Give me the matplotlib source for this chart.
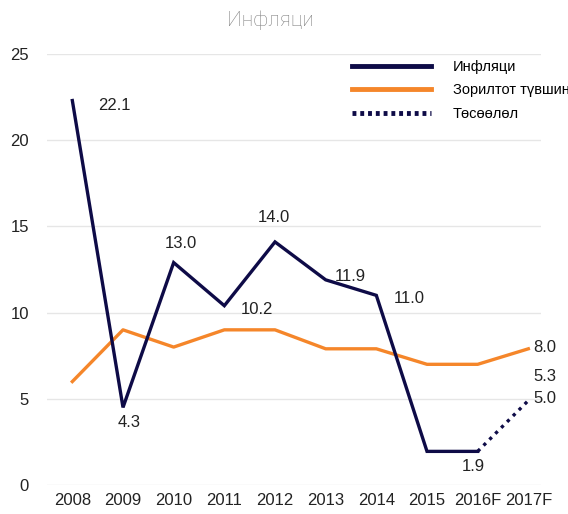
import matplotlib
matplotlib.use("Agg")
import matplotlib.pyplot as plt
from matplotlib.lines import Line2D

years = ["2008", "2009", "2010", "2011", "2012", "2013", "2014", "2015", "2016F", "2017F"]
inflation = [22.3, 4.5, 12.9, 10.4, 14.1, 11.9, 11.0, 1.95, 1.95]
forecast = [1.95, 4.9]
target = [6.0, 9.0, 8.0, 9.0, 9.0, 7.9, 7.9, 7.0, 7.0, 7.9]
labels = ["22.1", "4.3", "13.0", "14.0", "11.9", "11.0", "10.2", "1.9", "8.0", "5.3", "5.0"]
label_x = [0.82, 1.12, 2.15, 3.97, 5.48, 6.64, 3.65, 7.91, 9.33, 9.33, 9.33]
label_y = [22.0, 3.6, 14.0, 15.5, 12.1, 10.8, 10.2, 1.05, 8.0, 6.3, 5.0]

navy = "#0e0b47"
orange = "#f5862a"
plt.rcParams['font.family'] = ['Liberation Sans', 'DejaVu Sans']

fig = plt.figure(figsize=(5.68, 5.14), dpi=100)
ax = fig.add_axes([47/568, 1 - 485/514, (541-47)/568, (485-54)/514])

x = list(range(len(years)))
ax.plot(x[:9], inflation, color=navy, lw=2.4, solid_joinstyle='miter', zorder=3)
ax.plot(x[8:], forecast, color=navy, lw=2.4, ls=(0, (1, 1.5)), zorder=3)
ax.plot(x, target, color=orange, lw=2.4, zorder=2)

for lx, ly, t in zip(label_x, label_y, labels):
    ax.text(lx, ly, t, fontsize=12, color="#222222", ha='center', va='center', clip_on=False)

ax.set_ylim(0, 25)
ax.set_xlim(-0.5, 9.25)
ax.set_yticks([0, 5, 10, 15, 20, 25])
ax.set_xticks(x)
ax.set_xticklabels(years)
ax.tick_params(axis='both', length=0, labelsize=12, colors="#222222")
ax.tick_params(axis='y', pad=13)
ax.tick_params(axis='x', pad=6)
ax.grid(axis='y', color="#e6e6e6", lw=1)
ax.set_axisbelow(True)
for s in ax.spines.values():
    s.set_visible(False)

handles = [Line2D([], [], color=navy, lw=3.5),
           Line2D([], [], color=orange, lw=3.5),
           Line2D([], [], color=navy, lw=3.5, ls=(0, (0.8, 0.8)))]
leg = fig.legend(handles, ["Инфляци", "Зорилтот түвшин", "Төсөөлөл"],
                 loc='upper left', bbox_to_anchor=(352/568, 1 - 60/514),
                 frameon=False, fontsize=10.5, handlelength=5.4, handletextpad=1.5,
                 labelspacing=0.65, borderaxespad=0, borderpad=0)

fig.text(270/568, 1 - 20/514, "Инфляци", fontsize=15, color="#808080",
         ha='center', va='center', family=['Roboto', 'DejaVu Sans'], fontweight='light')

fig.savefig("out.png", dpi=100)
